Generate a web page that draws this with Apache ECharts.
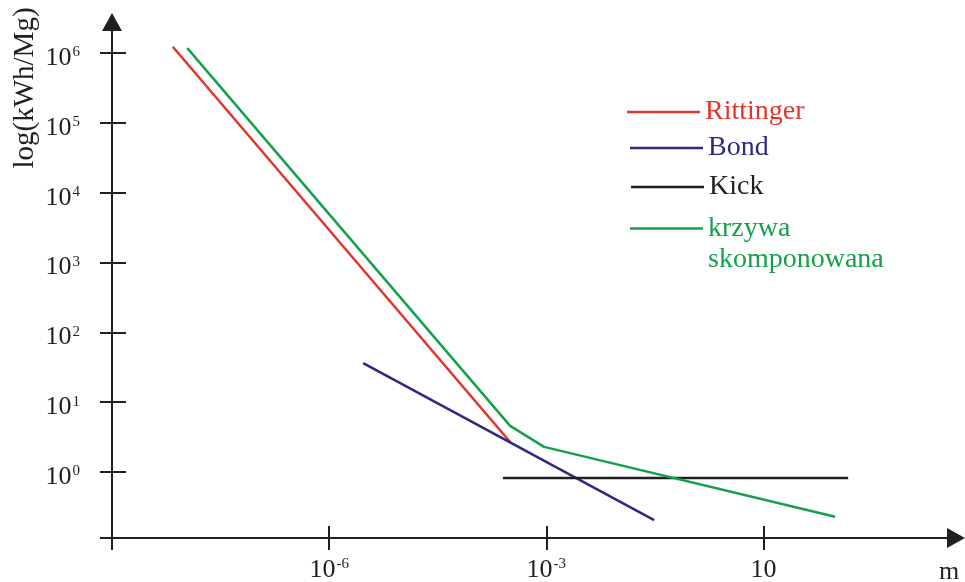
<!DOCTYPE html>
<html>
<head>
<meta charset="utf-8">
<script src="https://cdn.jsdelivr.net/npm/echarts@6/dist/echarts.min.js"></script>
<style>
html,body{margin:0;padding:0;background:#fff;}
#c{width:965px;height:582px;}
</style>
</head>
<body>
<div id="c"></div>
<script>
// Values are base-10 exponents: x = log10(size in m), y = log10(kWh/Mg)
const rittingerX = [-8.16, -3.50];
const rittingerY = [6.09, 0.43];
const bondX = [-5.53, -1.51];
const bondY = [1.56, -0.69];
const kickX = [-3.60, 1.17];
const kickY = [-0.086, -0.086];
const krzywaX = [-7.96, -3.50, -3.03, 0.99];
const krzywaY = [6.07, 0.66, 0.36, -0.64];

const xTickValues = [-6, -3, 0];
const xTickText = [['10', '-6'], ['10', '-3'], ['10', '']];
const yTickValues = [0, 1, 2, 3, 4, 5, 6];
const yTickText = [['10','0'],['10','1'],['10','2'],['10','3'],['10','4'],['10','5'],['10','6']];

const seriesNames = ['Rittinger', 'Bond', 'Kick', 'krzywa skomponowana'];
const seriesColors = ['#e3342c', '#2c2a85', '#231f20', '#16a04c'];

const FONT = '"Liberation Serif", "Times New Roman", serif';
const AX = '#231f20';
const X_MIN = -9, X_MAX = 2.66, Y_MIN = -0.945, Y_MAX = 6.444;

function pairs(xs, ys) { return xs.map((x, i) => [x, ys[i]]); }
function labelFor(values, texts) {
  return function (v) {
    const i = values.findIndex(t => Math.abs(t - v) < 1e-6);
    if (i < 0) return '';
    const t = texts[i];
    return t[1] ? '{b|' + t[0] + '}{s|' + t[1] + '}' : '{b|' + t[0] + '}';
  };
}
const richSup = {
  b: { fontFamily: FONT, fontSize: 26, color: AX, lineHeight: 26, verticalAlign: 'bottom' },
  s: { fontFamily: FONT, fontSize: 15, color: AX, lineHeight: 14, verticalAlign: 'top', padding: [0, 0, 0, 1] }
};

const chart = echarts.init(document.getElementById('c'), null, { renderer: 'canvas' });

const data = [
  pairs(rittingerX, rittingerY),
  pairs(bondX, bondY),
  pairs(kickX, kickY),
  pairs(krzywaX, krzywaY)
];

const legendTops = [98, 134, 173, 182];
const legendLefts = [627, 630, 631, 630];

const option = {
  animation: false,
  backgroundColor: '#ffffff',
  grid: { left: 112, right: 9, top: 22, bottom: 44, containLabel: false, outerBoundsMode: 'none' },
  xAxis: [
    {
      type: 'value', min: X_MIN, max: X_MAX, position: 'bottom',
      axisLine: { show: true, onZero: false, lineStyle: { color: AX, width: 2 }, symbol: ['none', 'triangle'], symbolSize: [20, 18] },
      axisTick: { show: true, inside: false, length: 12, lineStyle: { color: AX, width: 2 }, customValues: [X_MIN].concat(xTickValues) },
      axisLabel: { show: true, margin: 19, customValues: xTickValues, formatter: labelFor(xTickValues, xTickText), rich: richSup },
      splitLine: { show: false }
    },
    {
      type: 'value', min: X_MIN, max: X_MAX, position: 'bottom',
      axisLine: { show: false, onZero: false },
      axisTick: { show: true, inside: true, length: 12, lineStyle: { color: AX, width: 2 }, customValues: xTickValues },
      axisLabel: { show: false },
      splitLine: { show: false }
    }
  ],
  yAxis: [
    {
      type: 'value', min: Y_MIN, max: Y_MAX, position: 'left',
      axisLine: { show: true, onZero: false, lineStyle: { color: AX, width: 2 }, symbol: ['none', 'triangle'], symbolSize: [20, 18] },
      axisTick: { show: true, inside: false, length: 12, lineStyle: { color: AX, width: 2 }, customValues: [Y_MIN].concat(yTickValues) },
      axisLabel: { show: true, margin: 32, padding: [10, 0, 0, 0], customValues: yTickValues, formatter: labelFor(yTickValues, yTickText), rich: richSup },
      splitLine: { show: false }
    },
    {
      type: 'value', min: Y_MIN, max: Y_MAX, position: 'left',
      axisLine: { show: false, onZero: false },
      axisTick: { show: true, inside: true, length: 14, lineStyle: { color: AX, width: 2 }, customValues: yTickValues },
      axisLabel: { show: false },
      splitLine: { show: false }
    }
  ],
  legend: seriesNames.map((n, i) => ({
    data: [{ name: n, icon: 'rect', textStyle: { color: seriesColors[i] } }],
    orient: 'vertical',
    left: legendLefts[i], top: legendTops[i],
    padding: 0,
    itemWidth: 73, itemHeight: 2.5,
    selectedMode: false,
    textStyle: { fontFamily: FONT, fontSize: 28, lineHeight: i === 3 ? 31 : 28, color: seriesColors[i], padding: [0,0,0,0] },
    formatter: i === 3 ? function () { return '\nkrzywa\nskomponowana'; } : undefined
  })),
  graphic: [
    { type: 'text', x: 25, y: 88, rotation: Math.PI / 2, style: { text: 'log(kWh/Mg)', fontFamily: FONT, fontSize: 29, fill: AX, textAlign: 'center', textVerticalAlign: 'middle' } },
    { type: 'text', x: 949, y: 585, style: { text: 'm', fontFamily: FONT, fontSize: 26, fill: AX, textAlign: 'center', textVerticalAlign: 'bottom' } }
  ],
  series: seriesNames.map((n, i) => ({
    name: n, type: 'line', xAxisIndex: 0, yAxisIndex: 0,
    data: data[i], showSymbol: false, symbol: 'none', silent: true,
    lineStyle: { color: seriesColors[i], width: 2.5 },
    itemStyle: { color: seriesColors[i] },
    z: 3
  }))
};
chart.setOption(option);
</script>
</body>
</html>
